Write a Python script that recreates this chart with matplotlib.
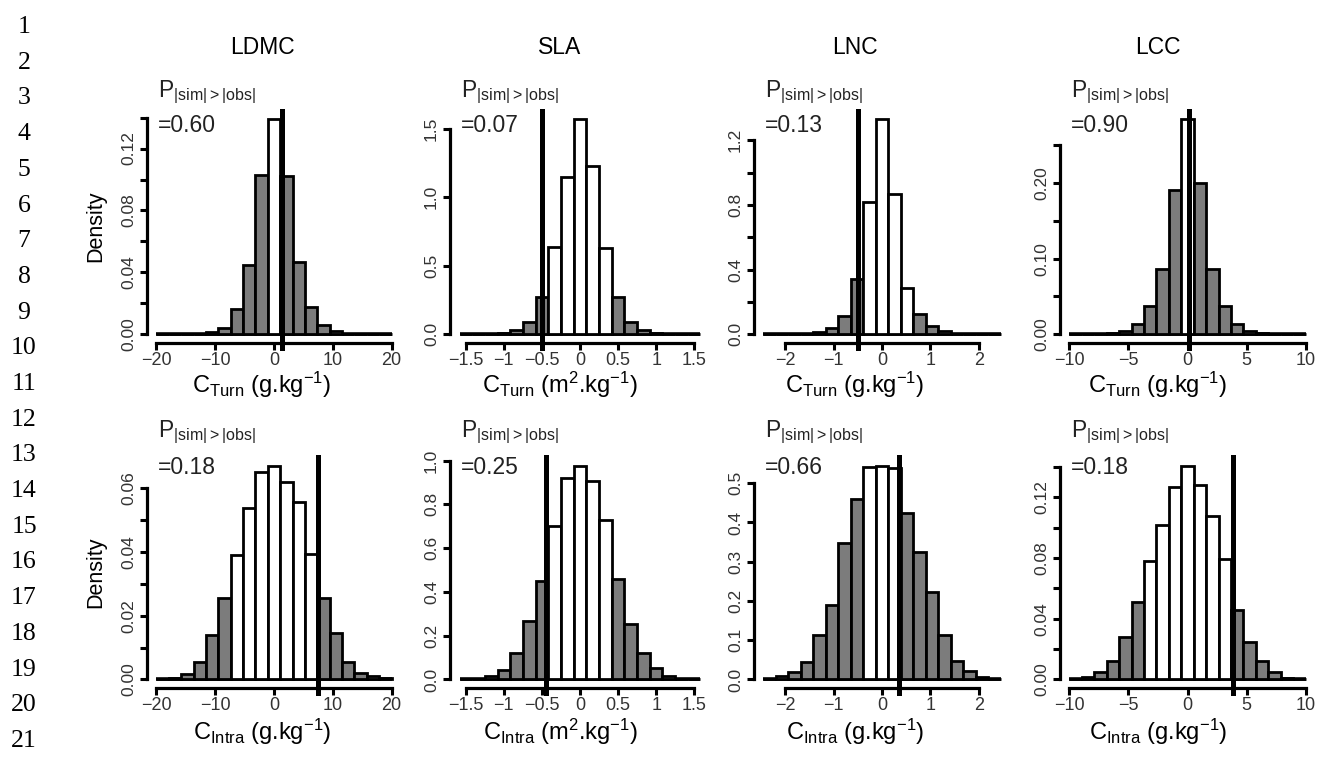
import numpy as np
import matplotlib
matplotlib.use('Agg')
import matplotlib.pyplot as plt

plt.rcParams['font.family'] = ['Liberation Sans', 'DejaVu Sans']
plt.rcParams['mathtext.fontset'] = 'custom'
plt.rcParams['mathtext.rm'] = 'Liberation Sans'
plt.rcParams['mathtext.it'] = 'Liberation Sans:italic'
plt.rcParams['mathtext.bf'] = 'Liberation Sans:bold'

traits = ['LDMC', 'SLA', 'LNC', 'LCC']
rows = ['Turn', 'Intra']
units = ['g', 'm$^{\\mathregular{2}}$', 'g', 'g']

# half range of the simulated values, split into 19 equal bins (k = -9..9)
half_range = [20, 1.58, 2.45, 10]

xticks = [[-20, -10, 0, 10, 20],
          [-1.5, -1, -0.5, 0, 0.5, 1, 1.5],
          [-2, -1, 0, 1, 2],
          [-10, -5, 0, 5, 10]]
xtick_labels = [['\u221220', '\u221210', '0', '10', '20'],
                ['\u22121.5', '\u22121', '\u22120.5', '0', '0.5', '1', '1.5'],
                ['\u22122', '\u22121', '0', '1', '2'],
                ['\u221210', '\u22125', '0', '5', '10']]

# densities per bin, k = -9..9
dens_turn = [
    [0, 0, 0, 0.0005, 0.0015, 0.004, 0.0167, 0.045, 0.103, 0.139, 0.102, 0.047, 0.0174, 0.0063, 0.002, 0.0005, 0, 0, 0],
    [0, 0, 0.003, 0.012, 0.034, 0.091, 0.271, 0.64, 1.145, 1.569, 1.224, 0.626, 0.271, 0.089, 0.030, 0.010, 0.003, 0, 0],
    [0, 0, 0.001, 0.004, 0.015, 0.04, 0.1125, 0.344, 0.817, 1.331, 0.865, 0.285, 0.123, 0.052, 0.02, 0.004, 0.001, 0, 0],
    [0, 0, 0.001, 0.002, 0.005, 0.014, 0.037, 0.086, 0.191, 0.284, 0.2, 0.086, 0.037, 0.014, 0.005, 0.002, 0.001, 0, 0],
]
dens_intra = [
    [0, 0.0005, 0.0017, 0.0056, 0.014, 0.0255, 0.039, 0.0538, 0.0652, 0.0672, 0.062, 0.0559, 0.0395, 0.0255, 0.0146, 0.0054, 0.0019, 0.001, 0.0004],
    [0, 0.003, 0.015, 0.043, 0.119, 0.265, 0.449, 0.701, 0.922, 0.977, 0.908, 0.729, 0.461, 0.254, 0.119, 0.054, 0.015, 0.003, 0],
    [0.002, 0.0086, 0.02, 0.045, 0.114, 0.19, 0.348, 0.461, 0.541, 0.545, 0.539, 0.423, 0.326, 0.224, 0.114, 0.047, 0.021, 0.007, 0.002],
    [0, 0.0018, 0.005, 0.012, 0.028, 0.051, 0.078, 0.102, 0.127, 0.141, 0.128, 0.1075, 0.0796, 0.046, 0.025, 0.012, 0.005, 0.001, 0],
]

# observed values and p-values
obs_turn = [1.35, -0.5, -0.5, 0.1]
obs_intra = [7.55, -0.44, 0.35, 3.85]
p_turn = ['0.60', '0.07', '0.13', '0.90']
p_intra = ['0.18', '0.25', '0.66', '0.18']

# bins (k index) drawn white, the rest grey
white_turn = [(0, 0), (-2, 2), (-1, 2), (0, 0)]
white_intra = [(-3, 3), (-2, 2), (-1, 1), (-3, 3)]

yticks_turn = [[0, 0.02, 0.04, 0.06, 0.08, 0.10, 0.12, 0.14],
               [0, 0.5, 1.0, 1.5],
               [0, 0.2, 0.4, 0.6, 0.8, 1.0, 1.2],
               [0, 0.05, 0.10, 0.15, 0.20, 0.25]]
ylabels_turn = [['0.00', '', '0.04', '', '0.08', '', '0.12', ''],
                ['0.0', '0.5', '1.0', '1.5'],
                ['0.0', '', '0.4', '', '0.8', '', '1.2'],
                ['0.00', '', '0.10', '', '0.20', '']]
yticks_intra = [[0, 0.01, 0.02, 0.03, 0.04, 0.05, 0.06],
                [0, 0.2, 0.4, 0.6, 0.8, 1.0],
                [0, 0.1, 0.2, 0.3, 0.4, 0.5],
                [0, 0.02, 0.04, 0.06, 0.08, 0.10, 0.12, 0.14]]
ylabels_intra = [['0.00', '', '0.02', '', '0.04', '', '0.06'],
                 ['0.0', '0.2', '0.4', '0.6', '0.8', '1.0'],
                 ['0.0', '0.1', '0.2', '0.3', '0.4', '0.5'],
                 ['0.00', '', '0.04', '', '0.08', '', '0.12', '']]

dens_all = [dens_turn, dens_intra]
obs_all = [obs_turn, obs_intra]
p_all = [p_turn, p_intra]
white_all = [white_turn, white_intra]
yticks_all = [yticks_turn, yticks_intra]
ylabels_all = [ylabels_turn, ylabels_intra]

# layout in pixels
W, H = 1320, 776
col_left = [147, 450, 754, 1060]
col_w = [254, 260, 256, 255]
row_top = [110.5, 457]
row_bot = [343, 688]
title_x = [262, 560, 855, 1158]
p_base = [97, 437]
v_base = [132, 474]
xlab_base = [393, 740]
grey = '#7c7c7c'

fig = plt.figure(figsize=(W / 100, H / 100), dpi=100)

for n in range(1, 22):
    fig.text(24 / W, 1 - (27 + (n - 1) * 35.7) / H, str(n), family='Liberation Serif',
             fontsize=18.5, ha='center', va='center')

for c in range(4):
    fig.text(title_x[c] / W, 1 - 54 / H, traits[c], fontsize=16.5, ha='center', va='baseline')

for r in range(2):
    for c in range(4):
        ax = fig.add_axes([col_left[c] / W, 1 - row_bot[r] / H, col_w[c] / W, (row_bot[r] - row_top[r]) / H])
        L = half_range[c]
        w = 2 * L / 19
        k = np.arange(-9, 10)
        centers = k * w
        dens = np.array(dens_all[r][c])
        lo, hi = white_all[r][c]
        cols = ['white' if lo <= kk <= hi else grey for kk in k]
        # flat base of the histogram (empty bins)
        ax.plot([-L, L], [0, 0], color='black', linewidth=2.6, solid_capstyle='butt', zorder=1.5)
        ax.bar(centers, dens, width=w, color=cols, edgecolor='black', linewidth=2.0, zorder=2)
        ax.axvline(obs_all[r][c], ymin=-0.02, ymax=1, color='black', linewidth=3.6, zorder=3, clip_on=False)

        top = dens.max()
        ax.set_xlim(-1.08 * L, 1.08 * L)
        ax.set_ylim(-0.04 * top, 1.04 * top)
        for s in ['top', 'right']:
            ax.spines[s].set_visible(False)
        for s in ['left', 'bottom']:
            ax.spines[s].set_linewidth(2.3)
        ax.spines['bottom'].set_bounds(xticks[c][0], xticks[c][-1])
        yt = yticks_all[r][c]
        ax.spines['left'].set_bounds(0, yt[-1])
        ax.set_xticks(xticks[c])
        ax.set_xticklabels(xtick_labels[c])
        ax.set_yticks(yt)
        ax.set_yticklabels(ylabels_all[r][c], rotation=90, va='center')
        ax.tick_params(direction='out', length=5, width=2.2, labelsize=13, labelcolor='#333333', pad=1.5)
        ax.tick_params(axis='y', labelsize=12.5, pad=3)
        ax.patch.set_visible(False)

        x0 = (col_left[c] + 11) / W
        fig.text(x0, 1 - p_base[r] / H, r'P$_{\mathregular{|sim|>|obs|}}$', fontsize=16.5, va='baseline', color='#222222')
        fig.text(x0, 1 - v_base[r] / H, '=' + p_all[r][c], fontsize=16.5, va='baseline', color='#222222')
        xl = 'C$_{\\mathregular{' + rows[r] + '}}$ (' + units[c] + '.kg$^{\\mathregular{-1}}$)'
        fig.text(title_x[c] / W, 1 - xlab_base[r] / H, xl, fontsize=17, ha='center', va='baseline')

    fig.text(96 / W, 1 - (row_top[r] + row_bot[r]) / 2 / H, 'Density', rotation=90,
             fontsize=15.5, ha='center', va='center')

plt.savefig('out.png', dpi=100)
